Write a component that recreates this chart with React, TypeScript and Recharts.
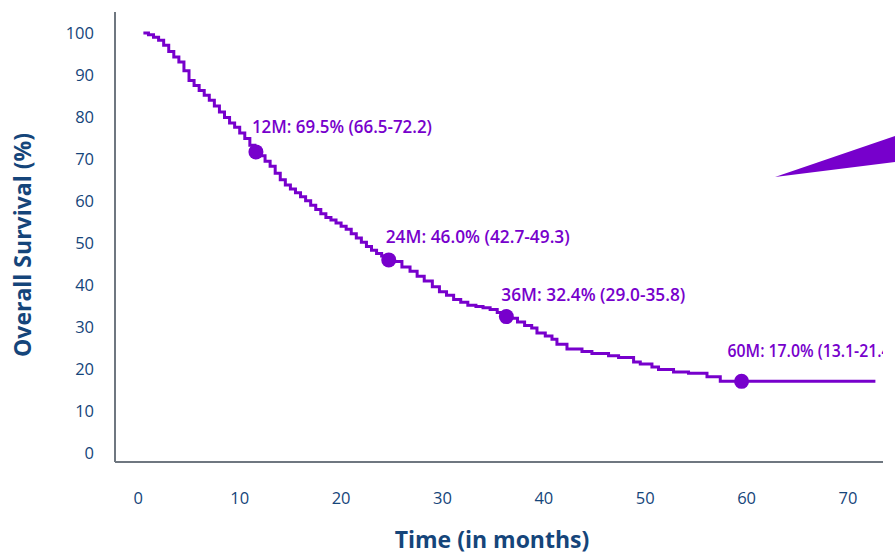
import { ComposedChart, Line, Scatter, XAxis, YAxis } from "recharts";

// Kaplan-Meier curve: months, survival %
const months = [
  0.5, 1, 1.5, 2, 2.5, 3, 3.5, 4, 4.5, 5, 5.5, 6, 6.5, 7, 7.5, 8, 8.5, 9, 9.5, 10,
  10.5, 11, 11.5, 12, 12.5, 13, 13.5, 14, 14.5, 15, 15.5, 16, 16.5, 17, 17.5, 18,
  18.5, 19, 19.5, 20, 20.5, 21, 21.5, 22, 22.5, 23, 23.5, 24, 24.5, 25, 26, 26.8,
  27.5, 28.2, 29, 29.7, 30.4, 31.1, 31.8, 32.5, 33.3, 34, 34.7, 35.4, 36, 36.7,
  37.4, 38.1, 38.8, 39.32, 40.14, 40.8, 41.29, 42.28, 43.76, 44.74, 46.38, 47.37,
  48.85, 49.51, 50.66, 51.31, 52.79, 54.27, 56.09, 57.4, 72.7,
];
const survival = [
  100, 99.6, 99.0, 98.3, 97.1, 95.6, 94.3, 93.1, 91.0, 88.7, 87.5, 86.3, 85.2, 84.0,
  82.6, 81.2, 79.9, 78.6, 77.6, 76.2, 74.9, 73.3, 71.8, 70.8, 69.5, 68.3, 66.6, 65.1,
  63.8, 62.9, 62.0, 61.0, 60.1, 59.0, 58.0, 57.0, 56.1, 55.5, 54.8, 54.0, 53.3, 52.2,
  51.2, 50.2, 49.2, 48.3, 47.5, 46.9, 46.1, 45.6, 44.3, 43.3, 42.1, 41.0, 39.6, 38.4,
  37.6, 36.6, 35.9, 35.2, 34.9, 34.6, 34.2, 33.5, 32.9, 32.1, 31.2, 30.4, 29.8, 28.6,
  27.9, 27.1, 25.9, 24.8, 24.2, 23.7, 23.2, 22.8, 21.7, 21.2, 20.5, 19.9, 19.3, 19.0,
  18.2, 17.1, 17.1,
];

// landmark points as drawn on the curve
const markMonths = [11.6, 24.7, 36.3, 59.5];
const markValues = [71.7, 46.0, 32.5, 17.1];
const markLabels = [
  "12M: 69.5% (66.5-72.2)",
  "24M: 46.0% (42.7-49.3)",
  "36M: 32.4% (29.0-35.8)",
  "60M: 17.0% (13.1-21.4)",
];

const xTicks = [0, 10, 20, 30, 40, 50, 60, 70];
const yTicks = [0, 10, 20, 30, 40, 50, 60, 70, 80, 90, 100];

const curve = months.map((t, i) => ({ t, v: survival[i] }));
const marks = markMonths.map((t, i) => ({ t, v: markValues[i], label: markLabels[i] }));

const PURPLE = "#7700cc";
const NAVY = "#15457a";
const AXIS = "#6f7780";

// label nudges relative to each dot (dx, baseline dy)
const nudges = [
  [-4, -19],
  [-3, -17],
  [-5, -16],
  [-14, -24],
];

// the slide font is condensed with a narrow "1"
const labelWidth = (s: string) => 184 - 4 * (s.split("1").length - 1);

const MarkShape = (props: any) => {
  const { cx, cy, payload, index } = props;
  const i = typeof index === "number" ? index : markLabels.indexOf(payload.label);
  const [dx, dy] = nudges[i] || [-4, -18];
  return (
    <g>
      <circle cx={cx} cy={cy} r={7.5} fill={PURPLE} />
      <text
        x={cx + dx}
        y={cy + dy}
        fill={PURPLE}
        fontFamily="Open Sans"
        fontWeight={600}
        fontSize={18}
        textLength={labelWidth(payload.label)}
        lengthAdjust="spacingAndGlyphs"
      >
        {payload.label}
      </text>
    </g>
  );
};

const YTitle = (props: any) => {
  const { viewBox } = props;
  const cx = viewBox.x + 22;
  const cy = viewBox.y + viewBox.height / 2 + 8;
  return (
    <text
      x={cx}
      y={cy}
      transform={`rotate(-90 ${cx} ${cy})`}
      textAnchor="middle"
      dominantBaseline="central"
      fill={NAVY}
      fontFamily="Open Sans"
      fontWeight={700}
      fontSize={23}
    >
      Overall Survival (%)
    </text>
  );
};

const tickStyle = { fill: NAVY, fontSize: 16.5, fontFamily: "Open Sans" };

export default function App() {
  return (
    <div style={{ position: "absolute", left: 0, top: 0, width: 895, height: 554, background: "#fff" }}>
      <ComposedChart
        width={895}
        height={554}
        data={curve}
        margin={{ top: 12, right: 12, left: 0, bottom: 0 }}
      >
        <XAxis
          type="number"
          dataKey="t"
          domain={[-2.3, 73.45]}
          ticks={xTicks}
          allowDataOverflow
          height={92}
          axisLine={{ stroke: AXIS, strokeWidth: 2 }}
          tickLine={false}
          tickSize={0}
          tickMargin={30}
          tick={tickStyle}
          label={{
            value: "Time (in months)",
            position: "insideBottom",
            offset: 6,
            fill: NAVY,
            fontFamily: "Open Sans",
            fontWeight: 700,
            fontSize: 23,
            dx: -7,
          }}
        />
        <YAxis
          type="number"
          domain={[-2.1, 105]}
          ticks={yTicks}
          allowDataOverflow
          width={115}
          axisLine={{ stroke: AXIS, strokeWidth: 2 }}
          tickLine={false}
          tickSize={0}
          tickMargin={21}
          tick={tickStyle}
          label={{ content: YTitle }}
        />
        <Line
          dataKey="v"
          type="stepAfter"
          stroke={PURPLE}
          strokeWidth={3}
          dot={false}
          activeDot={false}
          isAnimationActive={false}
        />
        <Scatter data={marks} dataKey="v" shape={MarkShape} isAnimationActive={false} />
      </ComposedChart>
      <svg
        width={895}
        height={554}
        style={{ position: "absolute", left: 0, top: 0, pointerEvents: "none" }}
      >
        <polygon points="775,177 895,136 895,162" fill={PURPLE} />
      </svg>
    </div>
  );
}
